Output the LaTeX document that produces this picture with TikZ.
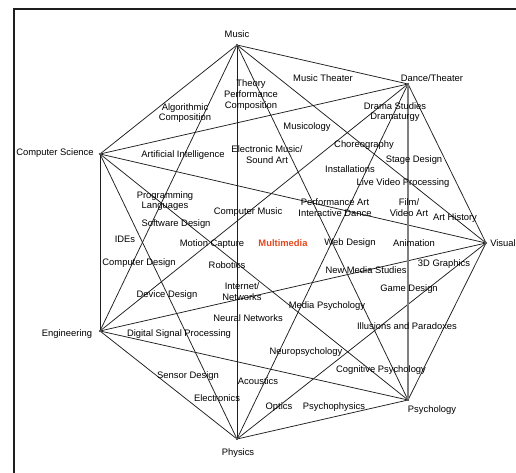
\documentclass[tikz,border=0pt]{standalone}
\usepackage{fontspec}
\setmainfont{Liberation Sans}
\usepackage{tikz}
\usetikzlibrary{positioning}
\definecolor{edgeBlack}{HTML}{1E1E1E}
\definecolor{mediaRed}{HTML}{E5461F}

\begin{document}
\begin{tikzpicture}[x=1pt, y=-1pt,
    vtx/.style={circle, fill=edgeBlack, inner sep=0pt, minimum size=2.2pt},
    edge/.style={draw=edgeBlack, line width=0.75pt},
    lbl/.style={inner sep=0pt, align=center, text=black, font=\fontsize{9.4}{10.8}\selectfont}
  ]
  \useasboundingbox (0,0) rectangle (516,473);
  \draw[edgeBlack, line width=1.3pt] (14,473) -- (14,9) -- (516,9);

  % the seven fields
  \node[vtx] (mu) at (237,45) {};
  \node[vtx] (dt) at (408,84) {};
  \node[vtx] (vi) at (486,243) {};
  \node[vtx] (ps) at (408,400) {};
  \node[vtx] (ph) at (237,439) {};
  \node[vtx] (en) at (100,331) {};
  \node[vtx] (cs) at (100,154) {};

  \node[lbl] (muL) at (237,34) {Music};
  \node[lbl] (dtL) at (432,78) {Dance/Theater};
  \node[lbl] (viL) at (503,243) {Visual};
  \node[lbl] (psL) at (432,410) {Psychology};
  \node[lbl] (phL) at (238,453) {Physics};
  \node[lbl] (enL) at (67,334) {Engineering};
  \node[lbl] (csL) at (55,153) {Computer Science};

  \foreach \a/\b in {mu/dt, mu/vi, mu/ps, mu/ph, mu/en, mu/cs,
                     dt/vi, dt/ph, dt/en, dt/cs,
                     vi/ps, vi/ph, vi/en, vi/cs,
                     ps/ph, ps/en, ps/cs,
                     ph/en, ph/cs, en/cs}
    \draw[edge] (\a) -- (\b);
  \draw[edge, draw=gray, line width=1.2pt] (dt) -- (ps);

  % the fields in between
  \node[lbl] (algo) at (185,113) {Algorithmic\\Composition};
  \node[lbl] (theory) at (251,95) {Theory\\Performance\\Composition};
  \node[lbl] (mth) at (323,78) {Music Theater};
  \node[lbl] (drama) at (395,112) {Drama Studies\\Dramaturgy};
  \node[lbl] (mcol) at (307,127) {Musicology};
  \node[lbl] (chor) at (364,145) {Choreography};
  \node[lbl] (ai) at (183,155) {Artificial Intelligence};
  \node[lbl] (emus) at (267,155) {Electronic Music/\\Sound Art};
  \node[lbl] (stage) at (414,160) {Stage Design};
  \node[lbl] (inst) at (350,169) {Installations};
  \node[lbl] (lvp) at (403,183) {Live Video Processing};
  \node[lbl] (prog) at (165,201) {Programming\\Languages};
  \node[lbl] (cmus) at (248,212) {Computer Music};
  \node[lbl] (perf) at (335,208) {Performance Art\\Interactive Dance};
  \node[lbl] (film) at (409,208) {Film/\\Video Art};
  \node[lbl] (arth) at (455,218) {Art History};
  \node[lbl] (soft) at (176,224) {Software Design};
  \node[lbl] (ides) at (125,239) {IDEs};
  \node[lbl] (moca) at (212,244) {Motion Capture};
  \node[lbl, text=mediaRed, font=\fontsize{9.4}{10.8}\selectfont\bfseries] (mm) at (283,243) {Multimedia};
  \node[lbl] (web) at (350,243) {Web Design};
  \node[lbl] (anim) at (414,243) {Animation};
  \node[lbl] (cdes) at (139,263) {Computer Design};
  \node[lbl] (robo) at (227,265) {Robotics};
  \node[lbl] (gfx) at (444,264) {3D Graphics};
  \node[lbl] (nms) at (366,270) {New Media Studies};
  \node[lbl] (inet) at (242,292) {Internet/\\Networks};
  \node[lbl] (game) at (409,289) {Game Design};
  \node[lbl] (dev) at (167,295) {Device Design};
  \node[lbl] (mpsy) at (327,306) {Media Psychology};
  \node[lbl] (nn) at (248,318) {Neural Networks};
  \node[lbl] (illu) at (407,326) {Illusions and Paradoxes};
  \node[lbl] (dsp) at (179,334) {Digital Signal Processing};
  \node[lbl] (npsy) at (306,352) {Neuropsychology};
  \node[lbl] (cpsy) at (381,370) {Cognitive Psychology};
  \node[lbl] (sens) at (188,376) {Sensor Design};
  \node[lbl] (acou) at (258,381) {Acoustics};
  \node[lbl] (elec) at (217,398) {Electronics};
  \node[lbl] (opt) at (279,407) {Optics};
  \node[lbl] (pphy) at (334,407) {Psychophysics};
\end{tikzpicture}
\end{document}
